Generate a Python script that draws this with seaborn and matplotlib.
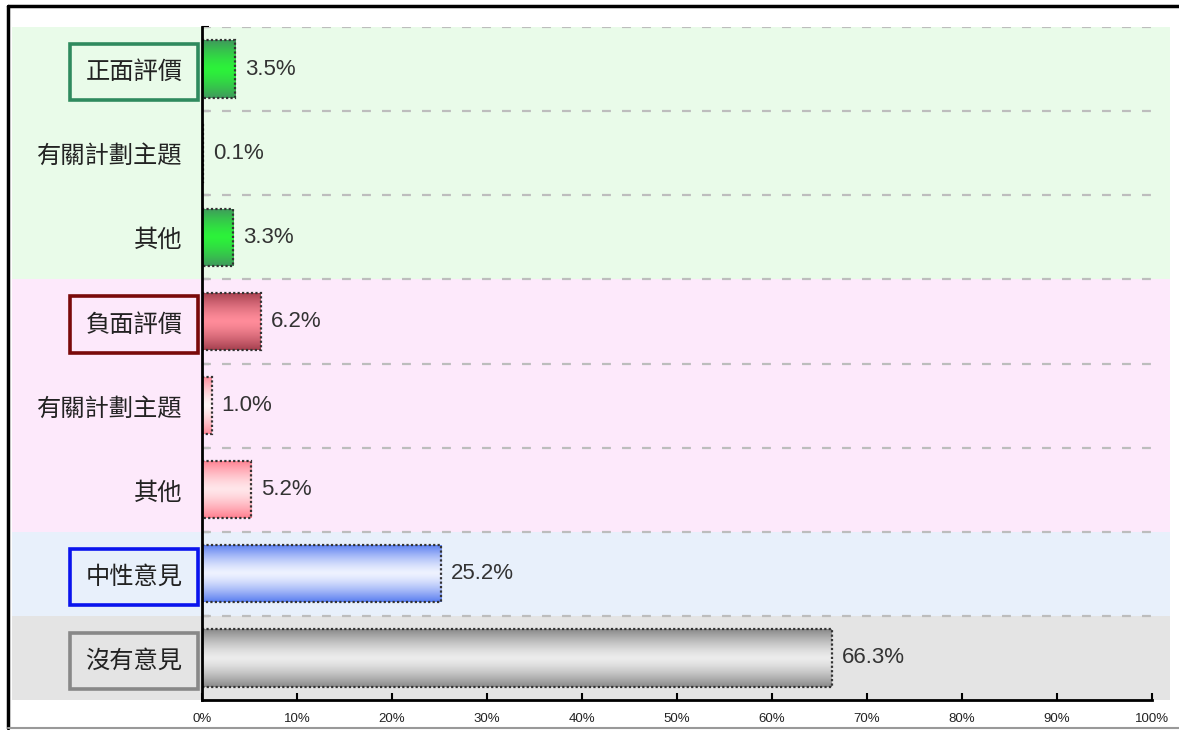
import numpy as np
import pandas as pd
import matplotlib
matplotlib.use("Agg")
import matplotlib.pyplot as plt
import matplotlib.transforms as mtransforms
from matplotlib.patches import Rectangle
from matplotlib.lines import Line2D
import seaborn as sns

# ---------------- data ----------------
labels = ["正面評價", "有關計劃主題", "其他",
          "負面評價", "有關計劃主題", "其他",
          "中性意見", "沒有意見"]
keys = ["pos", "pos_topic", "pos_other",
        "neg", "neg_topic", "neg_other",
        "neutral", "none"]
values = [3.5, 0.1, 3.3, 6.2, 1.0, 5.2, 25.2, 66.3]
groups = ["positive", "positive", "positive",
          "negative", "negative", "negative",
          "neutral", "none"]
header = [True, False, False, True, False, False, True, True]
xticks = [0, 10, 20, 30, 40, 50, 60, 70, 80, 90, 100]
xtick_labels = [f"{v}%" for v in xticks]

# ---------------- styles ----------------
# (edge colour of gradient, centre colour of gradient)
bar_grad = {
    "pos": ("#3f9a5c", "#2cf23a"),
    "pos_topic": ("#3f9a5c", "#2cf23a"),
    "pos_other": ("#3f9a5c", "#2cf23a"),
    "neg": ("#a5404f", "#ff8c9a"),
    "neg_topic": ("#ff8a9a", "#fff4f6"),
    "neg_other": ("#ff8090", "#ffe6ea"),
    "neutral": ("#5a7ef0", "#eef2ff"),
    "none": ("#8a8a8a", "#ececec"),
}
band_colors = {"positive": "#e9fbe9", "negative": "#fde9fb",
               "neutral": "#e8f0fb", "none": "#e4e4e4"}
box_colors = {"positive": "#2f8a5e", "negative": "#7a0a0a",
              "neutral": "#0a14ee", "none": "#888888"}

sns.set_theme(style="white")
plt.rcParams["font.family"] = ["Noto Sans CJK TC", "DejaVu Sans"]

df = pd.DataFrame({"key": keys, "value": values, "label": labels, "group": groups})

W, H = 1179, 730
fig = plt.figure(figsize=(W / 100, H / 100), dpi=100)
fig.patch.set_facecolor("white")
ax = fig.add_axes([202 / W, 30 / H, (1152 - 202) / W, (703 - 30) / H])
ax.set_facecolor("none")

sns.barplot(data=df, y="key", x="value", order=keys, orient="h",
            width=0.68, color="white", ax=ax, zorder=3)

ax.set_xlim(0, 100)
n = len(keys)
ylim = (n - 0.5, -0.5)
ax.set_ylim(*ylim)

# gradient fills clipped to each bar
for patch, k in zip(ax.patches, keys):
    edge_c, cen_c = bar_grad[k]
    e = np.array(matplotlib.colors.to_rgb(edge_c))
    c = np.array(matplotlib.colors.to_rgb(cen_c))
    t = np.linspace(0, 1, 64)
    f = np.abs(2 * t - 1) ** 1.4
    grad = (c[None, :] * (1 - f[:, None]) + e[None, :] * f[:, None])[:, None, :]
    x0, y0 = patch.get_x(), patch.get_y()
    w, h = patch.get_width(), patch.get_height()
    im = ax.imshow(grad, extent=[x0, x0 + w, y0 + h, y0], aspect="auto",
                   zorder=3, interpolation="bilinear")
    im.set_clip_path(patch)
    patch.set_facecolor("none")
    patch.set_edgecolor("#333333")
    patch.set_linewidth(1.6)
    patch.set_linestyle((0, (1, 1)))
    patch.set_zorder(4)
    ax.annotate(f"{w:.1f}%", xy=(x0 + w, y0 + h / 2), xytext=(7, 0),
                textcoords="offset points", va="center", ha="left",
                fontsize=16, color="#333333", family="Liberation Sans", zorder=5)

ax.set_xlim(0, 100)
ax.set_ylim(*ylim)

# background bands (extend beyond the axes)
pos = np.arange(n)
blend = mtransforms.blended_transform_factory(fig.transFigure, ax.transData)
start = 0
for i in range(1, n + 1):
    if i == n or groups[i] != groups[start]:
        r = Rectangle((12 / W, pos[start] - 0.5), (1170 - 12) / W, i - start,
                      transform=blend, facecolor=band_colors[groups[start]],
                      edgecolor="none", zorder=-1)
        fig.add_artist(r)
        start = i

# boundary dashed lines
bounds = pos - 0.5
ax.hlines(bounds, 0, 100, colors="#bdbdbd", linestyles=(0, (4, 5)), lw=1.6, zorder=1)

# axes styling
for s in ["top", "right"]:
    ax.spines[s].set_visible(False)
for s in ["left", "bottom"]:
    ax.spines[s].set_color("black")
    ax.spines[s].set_linewidth(2)
    ax.spines[s].set_zorder(6)

ax.set_xlabel("")
ax.set_ylabel("")
ax.set_xticks(xticks)
ax.set_xticklabels(xtick_labels, family="Liberation Sans", fontsize=9.5, color="#222222")
ax.tick_params(axis="x", bottom=True, direction="in", length=5, width=1.5,
               color="black", pad=9)

ax.set_yticks(pos)
ax.set_yticklabels(labels, fontsize=17.5, color="#222222")
ax.set_yticks(bounds, minor=True)
ax.tick_params(axis="y", which="major", left=True, length=0, pad=14)
ax.tick_params(axis="y", which="minor", left=True, direction="in", length=5,
               width=1.5, color="black")

for tl, g, hd in zip(ax.get_yticklabels(), groups, header):
    if hd:
        tl.set_bbox(dict(boxstyle="square,pad=0.62", facecolor="none",
                         edgecolor=box_colors[g], linewidth=2.6))

# outer frame
fig.add_artist(Line2D([8 / W, 1], [1 - 6 / H, 1 - 6 / H], color="black", lw=2.5,
                      transform=fig.transFigure))
fig.add_artist(Line2D([8 / W, 8 / W], [1 - 6 / H, 2 / H], color="black", lw=2.5,
                      transform=fig.transFigure))
fig.add_artist(Line2D([8 / W, 1], [2 / H, 2 / H], color="#999999", lw=1.5,
                      transform=fig.transFigure))

fig.savefig("out.png", dpi=100)
